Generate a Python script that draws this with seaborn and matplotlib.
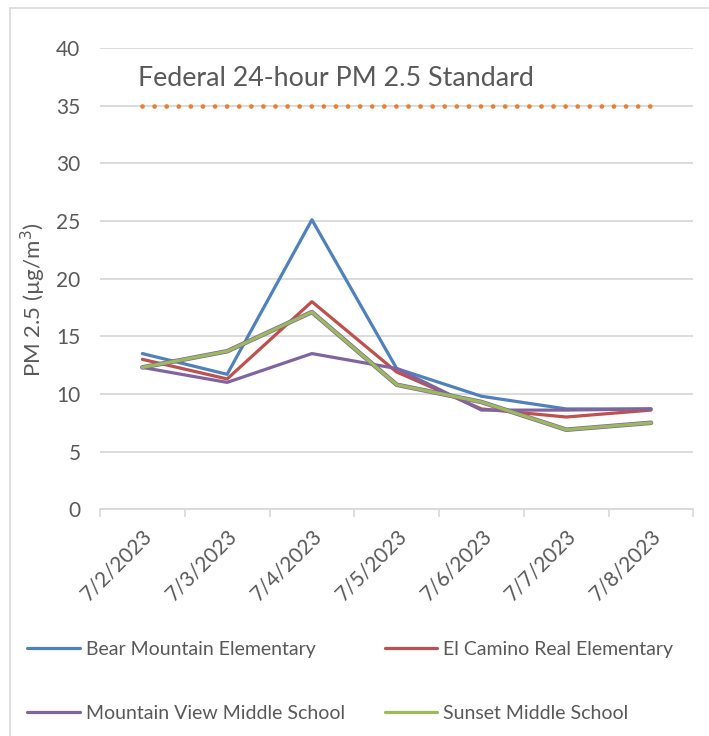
import pandas as pd
import matplotlib.pyplot as plt
import matplotlib.patheffects as pe
from matplotlib.patches import Rectangle
import seaborn as sns

# Data
dates = ['7/2/2023', '7/3/2023', '7/4/2023', '7/5/2023', '7/6/2023', '7/7/2023', '7/8/2023']
bear_mountain = [13.5, 11.7, 25.1, 12.2, 9.8, 8.7, 8.7]
el_camino = [13.0, 11.3, 18.0, 11.9, 8.7, 8.0, 8.6]
mountain_view = [12.3, 11.0, 13.5, 12.2, 8.6, 8.6, 8.7]
sunset = [12.3, 13.7, 17.1, 10.8, 9.3, 6.9, 7.5]
standard = [35, 35, 35, 35, 35, 35, 35]

schools = ['Bear Mountain Elementary', 'El Camino Real Elementary',
           'Mountain View Middle School', 'Sunset Middle School']
colors = ['#4F81BD', '#C0504D', '#8064A2', '#9BBB59']

df = pd.DataFrame({
    'Date': dates * 4,
    'pos': list(range(len(dates))) * 4,
    'School': [s for s in schools for _ in dates],
    'PM': bear_mountain + el_camino + mountain_view + sunset,
})

sns.set_style('white')
plt.rcParams['font.family'] = ['Lato', 'DejaVu Sans']

fig = plt.figure(figsize=(7.09, 7.36), dpi=100)
ax = fig.add_axes([0.141, 0.308, 0.837, 0.627])

sns.lineplot(data=df, x='pos', y='PM', hue='School', palette=colors,
             linewidth=2.3, ax=ax, legend=True, sort=False)
# green line has a faint purple rim in the original
ax.lines[3].set_path_effects([pe.Stroke(linewidth=3.3, foreground='#8064A2'), pe.Normal()])

# federal standard as a dotted orange line
ax.plot(range(len(dates)), standard, color='#ED7D31', linewidth=3.4,
        linestyle=(0, (0.01, 2.55)), dash_capstyle='round')
ax.text(-0.05, 37.3, 'Federal 24-hour PM 2.5 Standard', fontsize=19.3,
        color='#595959', va='center', ha='left')

ax.set_xlim(-0.5, len(dates) - 0.5)
ax.set_ylim(0, 40)
ax.set_yticks(range(0, 41, 5))
ax.set_xticks(range(len(dates)))
ax.set_xticklabels(dates, rotation=45, ha='right', rotation_mode='anchor')
ax.set_xticks([i - 0.5 for i in range(len(dates) + 1)], minor=True)
ax.tick_params(axis='x', which='major', length=0, pad=12, labelsize=15, labelcolor='#595959')
ax.tick_params(axis='x', which='minor', length=6, width=1.2, color='#d9d9d9', bottom=True)
ax.tick_params(axis='y', length=0, pad=14, labelsize=15, labelcolor='#595959')
ax.yaxis.grid(True, color='#d9d9d9', linewidth=1.3)
ax.set_axisbelow(True)
for side in ['top', 'right', 'left']:
    ax.spines[side].set_visible(False)
ax.spines['bottom'].set_color('#d9d9d9')
ax.spines['bottom'].set_linewidth(1.3)
ax.set_xlabel('')
ax.set_ylabel('PM 2.5 (µg/m$^3$)', fontsize=16, color='#595959')
ax.yaxis.set_label_coords(-0.088, 0.455)

handles, labels = ax.get_legend_handles_labels()
ax.legend_.remove()
order = [0, 2, 1, 3]  # row-major like the original
fig.legend([handles[i] for i in order], [labels[i] for i in order],
           loc='center left', bbox_to_anchor=(0.014, 0.074),
           ncol=2, frameon=False, fontsize=14, handlelength=2.7, handletextpad=0.3,
           columnspacing=2.05, labelspacing=2.4, labelcolor='#595959')

# outer chart border
fig.patches.append(Rectangle((10 / 709, -0.1), 1.2, 1 - 8 / 736 + 0.1,
                             transform=fig.transFigure, fill=False,
                             edgecolor='#d9d9d9', linewidth=1.2))

fig.savefig('out.png', dpi=100)
